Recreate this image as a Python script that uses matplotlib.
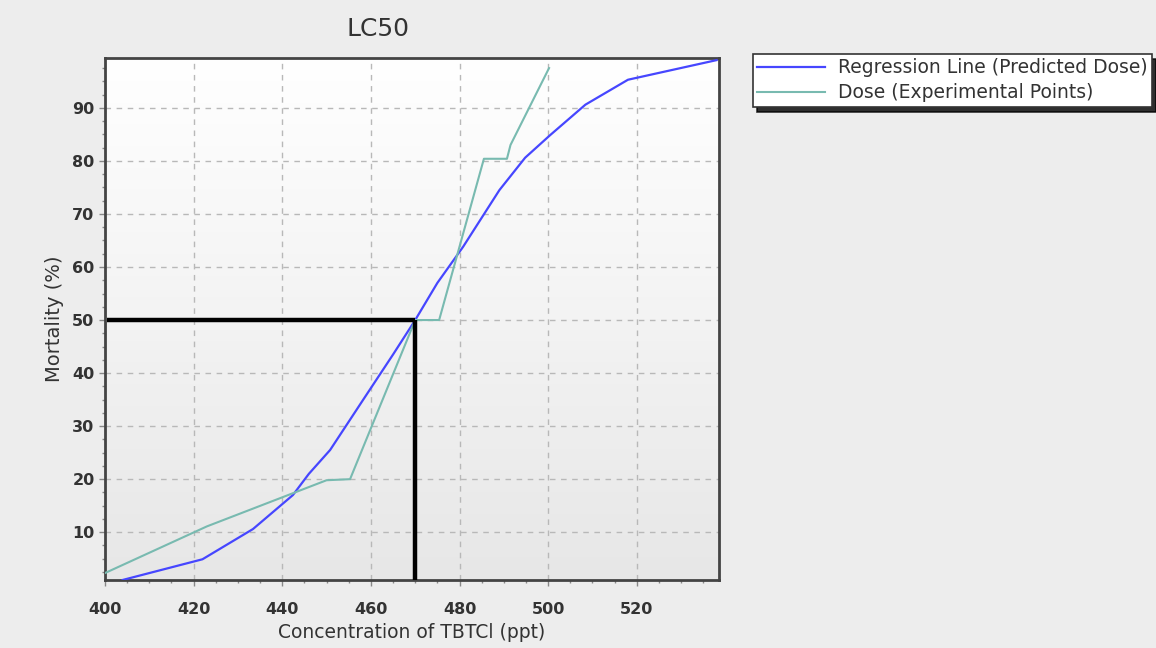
#!/usr/bin/env python3
"""LC50 probit chart: regression line vs experimental dose points."""

import matplotlib
matplotlib.use("Agg")
import matplotlib.pyplot as plt
import numpy as np
from matplotlib.ticker import MultipleLocator

# regression line (predicted dose)
reg_conc = [404, 422, 433.4, 442.4, 446, 450.8, 458.2, 465, 470, 475, 480.8, 489, 494.8, 500.5, 508.4, 518, 538]
reg_mort = [1.0, 4.9, 10.6, 17.0, 21.0, 25.5, 34.9, 43.5, 50.0, 57.0, 63.8, 74.5, 80.6, 84.9, 90.6, 95.3, 99.0]

# experimental points
exp_conc = [400, 423, 450, 455.3, 470, 475.4, 485.5, 490.7, 491.5, 500.2]
exp_mort = [2.3, 11.1, 19.8, 20.0, 50.0, 50.0, 80.4, 80.4, 83.0, 97.5]

lc50_conc = 470
lc50_mort = 50

x_ticks = [400, 420, 440, 460, 480, 500, 520]
y_ticks = [10, 20, 30, 40, 50, 60, 70, 80, 90]

fig = plt.figure(figsize=(11.56, 6.48), dpi=100, facecolor="#ededed")
ax = fig.add_axes([0.0908, 0.105, 0.531, 0.8055])

# gradient plot background: white at top, light grey at bottom
grad = np.linspace(0, 1, 256).reshape(-1, 1)
ax.imshow(grad, cmap=matplotlib.colors.LinearSegmentedColormap.from_list("bg", ["#e7e7e7", "#ffffff"]),
          extent=[0, 1, 0, 1], transform=ax.transAxes, aspect="auto", origin="lower", zorder=0)

ax.plot(reg_conc, reg_mort, color="#4646ff", linewidth=1.6, label="Regression Line (Predicted Dose)", zorder=3)
ax.plot(exp_conc, exp_mort, color="#78bab0", linewidth=1.5, label="Dose (Experimental Points)", zorder=3)

ax.plot([400.5, lc50_conc], [lc50_mort, lc50_mort], color="black", linewidth=3.2, solid_capstyle="butt", zorder=4)
ax.plot([lc50_conc, lc50_conc], [lc50_mort, 1.0], color="black", linewidth=3.2, solid_capstyle="butt", zorder=4)

ax.set_xlim(400, 538.5)
ax.set_ylim(1.0, 99.4)
ax.set_xticks(x_ticks)
ax.set_yticks(y_ticks)
ax.xaxis.set_minor_locator(MultipleLocator(5))
ax.yaxis.set_minor_locator(MultipleLocator(2.5))
ax.grid(True, which="major", color="#b8b8b8", linestyle=(0, (4, 4)), linewidth=1.0, zorder=1)
ax.set_axisbelow(True)

ax.tick_params(which="major", direction="out", length=4, width=1, color="#888888",
               labelsize=11.5, labelcolor="#333333")
ax.tick_params(axis="x", which="major", pad=12)
ax.tick_params(which="minor", direction="out", length=2.5, width=1, color="#888888")
for lab in ax.get_xticklabels() + ax.get_yticklabels():
    lab.set_fontweight("bold")
for sp in ax.spines.values():
    sp.set_color("#444444")
    sp.set_linewidth(2)

ax.set_xlabel("Concentration of TBTCl (ppt)", fontsize=13.5, color="#333333", labelpad=4)
ax.set_ylabel("Mortality (%)", fontsize=14, color="#333333", labelpad=6)
fig.text(0.327, 0.955, "LC50", fontsize=18, color="#333333", ha="center", va="center")

leg = fig.legend(loc="upper left", bbox_to_anchor=(0.651, 0.917), frameon=True, fancybox=False,
                 shadow={"color": "black", "alpha": 0.8, "ox": 3, "oy": -4}, edgecolor="#333333",
                 fontsize=13.5, handlelength=3.6, handletextpad=0.7, borderpad=0.25, labelspacing=0.3,
                 borderaxespad=0)
leg.get_frame().set_linewidth(1.2)
for t in leg.get_texts():
    t.set_color("#333333")

fig.savefig("out.png", dpi=100, facecolor=fig.get_facecolor())
